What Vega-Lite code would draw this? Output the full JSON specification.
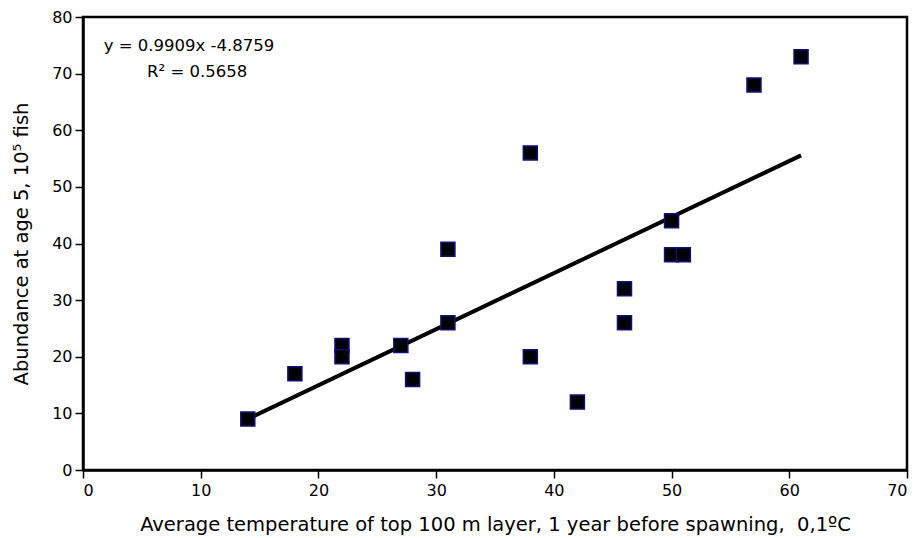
{
  "$schema": "https://vega.github.io/schema/vega-lite/v6.json",
  "autosize": "none",
  "width": 824,
  "height": 453,
  "padding": {"left": 83, "top": 17, "right": 10, "bottom": 68},
  "background": "white",
  "config": {
    "font": "DejaVu Sans",
    "view": {"stroke": "black", "strokeWidth": 2.5},
    "axis": {
      "domainColor": "black", "domainWidth": 2.5,
      "tickColor": "black", "tickWidth": 1.5, "tickSize": 8,
      "labelColor": "black", "labelFont": "DejaVu Sans", "labelFontSize": 16,
      "titleColor": "black", "titleFont": "DejaVu Sans", "titleFontSize": 19.5, "titleFontWeight": "normal",
      "grid": false
    }
  },
  "datasets": {
    "points": [
      {"temp": 14, "abundance": 9},
      {"temp": 18, "abundance": 17},
      {"temp": 22, "abundance": 22},
      {"temp": 22, "abundance": 20},
      {"temp": 27, "abundance": 22},
      {"temp": 28, "abundance": 16},
      {"temp": 31, "abundance": 39},
      {"temp": 31, "abundance": 26},
      {"temp": 38, "abundance": 56},
      {"temp": 38, "abundance": 20},
      {"temp": 42, "abundance": 12},
      {"temp": 46, "abundance": 32},
      {"temp": 46, "abundance": 26},
      {"temp": 50, "abundance": 44},
      {"temp": 50, "abundance": 38},
      {"temp": 51, "abundance": 38},
      {"temp": 57, "abundance": 68},
      {"temp": 61, "abundance": 73}
    ],
    "trend": [
      {"temp": 14, "abundance": 9.0},
      {"temp": 61, "abundance": 55.57}
    ],
    "labels": [
      {"temp": 9.0, "abundance": 74.9, "text": "y = 0.9909x -4.8759"},
      {"temp": 9.7, "abundance": 70.3, "text": "R² = 0.5658"}
    ]
  },
  "encoding": {
    "x": {
      "field": "temp", "type": "quantitative",
      "scale": {"domain": [0, 70], "nice": false, "zero": false},
      "axis": {"values": [0, 10, 20, 30, 40, 50, 60, 70], "labelPadding": 4,
               "title": "Average temperature of top 100 m layer, 1 year before spawning,\u00a0 0,1ºC", "titlePadding": 17}
    },
    "y": {
      "field": "abundance", "type": "quantitative",
      "scale": {"domain": [0, 80], "nice": false, "zero": false},
      "axis": {"values": [0, 10, 20, 30, 40, 50, 60, 70, 80], "labelPadding": 3,
               "title": "Abundance at age 5, 10⁵ fish", "titlePadding": 20}
    }
  },
  "layer": [
    {
      "data": {"name": "trend"},
      "mark": {"type": "line", "color": "black", "strokeWidth": 4}
    },
    {
      "data": {"name": "points"},
      "mark": {"type": "square", "filled": true, "fill": "black", "stroke": "#10107a", "strokeWidth": 1.5, "size": 196, "opacity": 1}
    },
    {
      "data": {"name": "labels"},
      "mark": {"type": "text", "fontSize": 16.5, "font": "DejaVu Sans", "color": "black", "align": "center", "baseline": "middle"},
      "encoding": {"text": {"field": "text"}}
    }
  ]
}
